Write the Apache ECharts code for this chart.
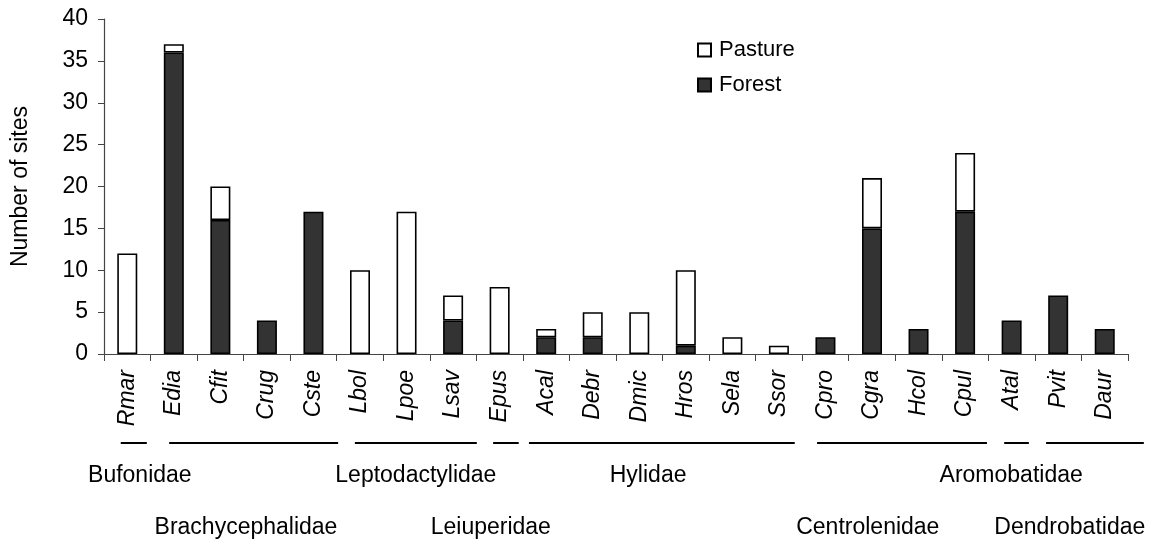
<!DOCTYPE html>
<html>
<head>
<meta charset="utf-8">
<script src="https://cdn.jsdelivr.net/npm/echarts@6/dist/echarts.min.js"></script>
<style>
  html, body { margin: 0; padding: 0; background: #fff; }
  #chart { width: 1160px; height: 550px; }
</style>
</head>
<body>
<div id="chart"></div>
<script>
// Species codes along the x axis
const species = ['Rmar', 'Edia', 'Cfit', 'Crug', 'Cste', 'Lbol', 'Lpoe', 'Lsav', 'Epus', 'Acal', 'Debr',
  'Dmic', 'Hros', 'Sela', 'Ssor', 'Cpro', 'Cgra', 'Hcol', 'Cpul', 'Atal', 'Pvit', 'Daur'];

// Number of sites where each species was recorded, by habitat
const forest  = [0, 36, 16, 4, 17, 0, 0, 4, 0, 2, 2, 0, 1, 0, 0, 2, 15, 3, 17, 4, 7, 3];
const pasture = [12, 1, 4, 0, 0, 10, 17, 3, 8, 1, 3, 5, 9, 2, 1, 0, 6, 0, 7, 0, 0, 0];

// Families and the first/last species index belonging to each
const families = ['Bufonidae', 'Brachycephalidae', 'Leptodactylidae', 'Leiuperidae', 'Hylidae',
  'Centrolenidae', 'Aromobatidae', 'Dendrobatidae'];
const familySpan = [[0, 0], [1, 4], [5, 7], [8, 8], [9, 14], [15, 18], [19, 19], [20, 21]];

// Annotation layout (in category-band units)
const familyRow = [0, 1, 0, 1, 0, 1, 0, 1];
const familyLabelAt = [0.77, 3.05, 6.7, 8.31, 11.69, 16.41, 19.49, 20.75];
const bracketFrom = [0.36, 0.4, 0.39, 0.36, 0.13, 0.32, 0.34, 0.24];
const bracketTo = [-0.08, 0.03, 0.01, -0.09, -0.16, -0.03, -0.13, 0.34];

const FONT = 'Liberation Sans, Arial, Helvetica, sans-serif';
const FS = 23;
const nz = v => (v === 0 ? null : v);

const chart = echarts.init(document.getElementById('chart'), null, { renderer: 'canvas' });

const option = {
  animation: false,
  backgroundColor: '#fff',
  grid: { left: 104, right: 32, top: 19, bottom: 196, containLabel: false },
  legend: {
    data: ['Pasture', 'Forest'],
    orient: 'vertical',
    left: 692,
    top: 34,
    icon: 'rect',
    itemWidth: 13,
    itemHeight: 13,
    itemGap: 13,
    textStyle: { fontSize: 22, color: '#000', fontFamily: FONT, padding: [0, 0, 0, 3] }
  },
  xAxis: {
    type: 'category',
    data: species,
    axisLine: { show: true, lineStyle: { color: '#444', width: 1.2 } },
    axisTick: { show: true, alignWithLabel: false, length: 7, lineStyle: { color: '#444' } },
    axisLabel: {
      interval: 0,
      rotate: 90,
      margin: 16,
      fontSize: FS,
      fontStyle: 'italic',
      color: '#000',
      fontFamily: FONT
    },
    splitLine: { show: false }
  },
  yAxis: {
    type: 'value',
    min: 0,
    max: 40,
    interval: 5,
    name: 'Number of sites',
    nameLocation: 'middle',
    nameGap: 72,
    nameTextStyle: { fontSize: FS, color: '#000', fontFamily: FONT },
    axisLine: { show: true, lineStyle: { color: '#444', width: 1.2 } },
    axisTick: { show: true, length: 6, lineStyle: { color: '#444' } },
    axisLabel: { fontSize: FS, color: '#000', margin: 16, fontFamily: FONT },
    splitLine: { show: false }
  },
  series: [
    {
      name: 'Forest',
      type: 'bar',
      stack: 'sites',
      barWidth: 20,
      data: forest.map(nz),
      itemStyle: { color: '#333333', borderColor: '#000', borderWidth: 1.6 }
    },
    {
      name: 'Pasture',
      type: 'bar',
      stack: 'sites',
      barWidth: 20,
      data: pasture.map(nz),
      itemStyle: { color: '#ffffff', borderColor: '#000', borderWidth: 1.6 }
    }
  ]
};

chart.setOption(option);

// Family brackets and names under the species labels
function drawFamilies() {
  const c0 = chart.convertToPixel({ xAxisIndex: 0 }, 0);
  const c1 = chart.convertToPixel({ xAxisIndex: 0 }, 1);
  const band = c1 - c0;
  const x0 = c0 - band / 2;
  const axisY = chart.convertToPixel({ yAxisIndex: 0 }, 0);
  const bandX = u => x0 + u * band;

  const elements = [];
  families.forEach((name, i) => {
    const [a, b] = familySpan[i];
    elements.push({
      type: 'line',
      silent: true,
      shape: {
        x1: bandX(a + bracketFrom[i]), y1: axisY + 89,
        x2: bandX(b + 1 + bracketTo[i]), y2: axisY + 89
      },
      style: { stroke: '#000', lineWidth: 2 }
    });
    elements.push({
      type: 'text',
      silent: true,
      style: {
        text: name,
        x: bandX(familyLabelAt[i]),
        y: axisY + (familyRow[i] === 0 ? 122 : 174),
        textAlign: 'center',
        textVerticalAlign: 'middle',
        fontSize: FS,
        fontFamily: FONT,
        fill: '#000'
      }
    });
  });
  chart.setOption({ graphic: elements });
}
drawFamilies();
</script>
</body>
</html>
